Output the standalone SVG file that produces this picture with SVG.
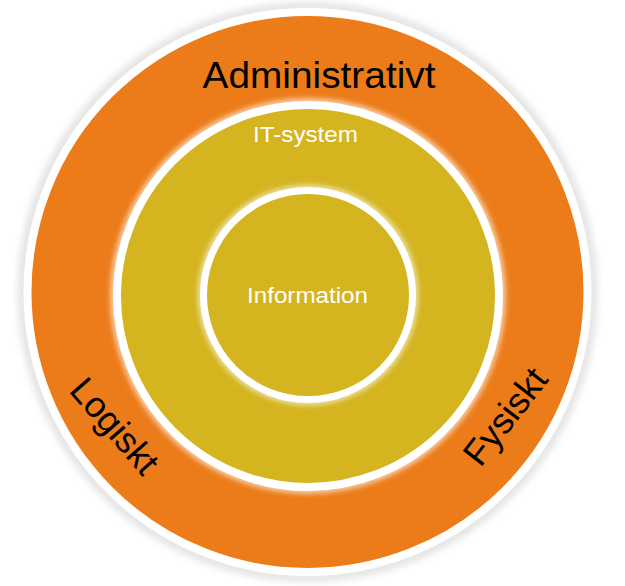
<svg xmlns="http://www.w3.org/2000/svg" width="625" height="586" viewBox="0 0 625 586">
  <defs>
    <filter id="soft" x="-20%" y="-20%" width="140%" height="140%">
      <feGaussianBlur stdDeviation="4"/>
    </filter>
    <filter id="glow" x="-20%" y="-20%" width="140%" height="140%">
      <feGaussianBlur stdDeviation="2.5"/>
    </filter>
    <style>
      .ring { stroke: #FFFFFF; }
      .orange { fill: #EC7C19; }
      .gold { fill: #D4B41F; }
      .shadow { fill: none; stroke: #9A9A9A; opacity: 0.45; }
      .glowring { fill: none; stroke: #FFFFFF; opacity: 0.6; }
      .lbl-dark { font-family: "Liberation Sans", Arial, sans-serif; fill: #000000; }
      .lbl-light { font-family: "Liberation Sans", Arial, sans-serif; fill: #FFFFFF; }
    </style>
  </defs>
  <rect width="625" height="586" fill="#FFFFFF"/>

  <g id="outer-ring">
    <circle class="shadow" cx="307.5" cy="292" r="285" stroke-width="6" filter="url(#soft)"/>
    <circle class="orange ring" cx="307.5" cy="292" r="280" stroke-width="8"/>
    <text class="lbl-dark" x="319" y="88" font-size="37" text-anchor="middle" textLength="233" lengthAdjust="spacingAndGlyphs">Administrativt</text>
    <text class="lbl-dark" font-size="36" text-anchor="middle" transform="translate(105.5,434) rotate(49)">Logiskt</text>
    <text class="lbl-dark" font-size="36" text-anchor="middle" transform="translate(515,424) rotate(-52)">Fysiskt</text>
  </g>

  <g id="it-system">
    <circle class="glowring" cx="308" cy="296" r="192" stroke-width="12" filter="url(#glow)"/>
    <circle class="gold ring" cx="308" cy="296" r="191" stroke-width="8"/>
    <text class="lbl-light" x="305.5" y="142" font-size="22" text-anchor="middle" textLength="105" lengthAdjust="spacingAndGlyphs">IT-system</text>
  </g>

  <g id="information">
    <circle class="glowring" cx="308" cy="295" r="105" stroke-width="11" filter="url(#glow)"/>
    <circle class="gold ring" cx="308" cy="295" r="104.5" stroke-width="7"/>
    <text class="lbl-light" x="307.5" y="303" font-size="22" text-anchor="middle" textLength="121" lengthAdjust="spacingAndGlyphs">Information</text>
  </g>
</svg>
